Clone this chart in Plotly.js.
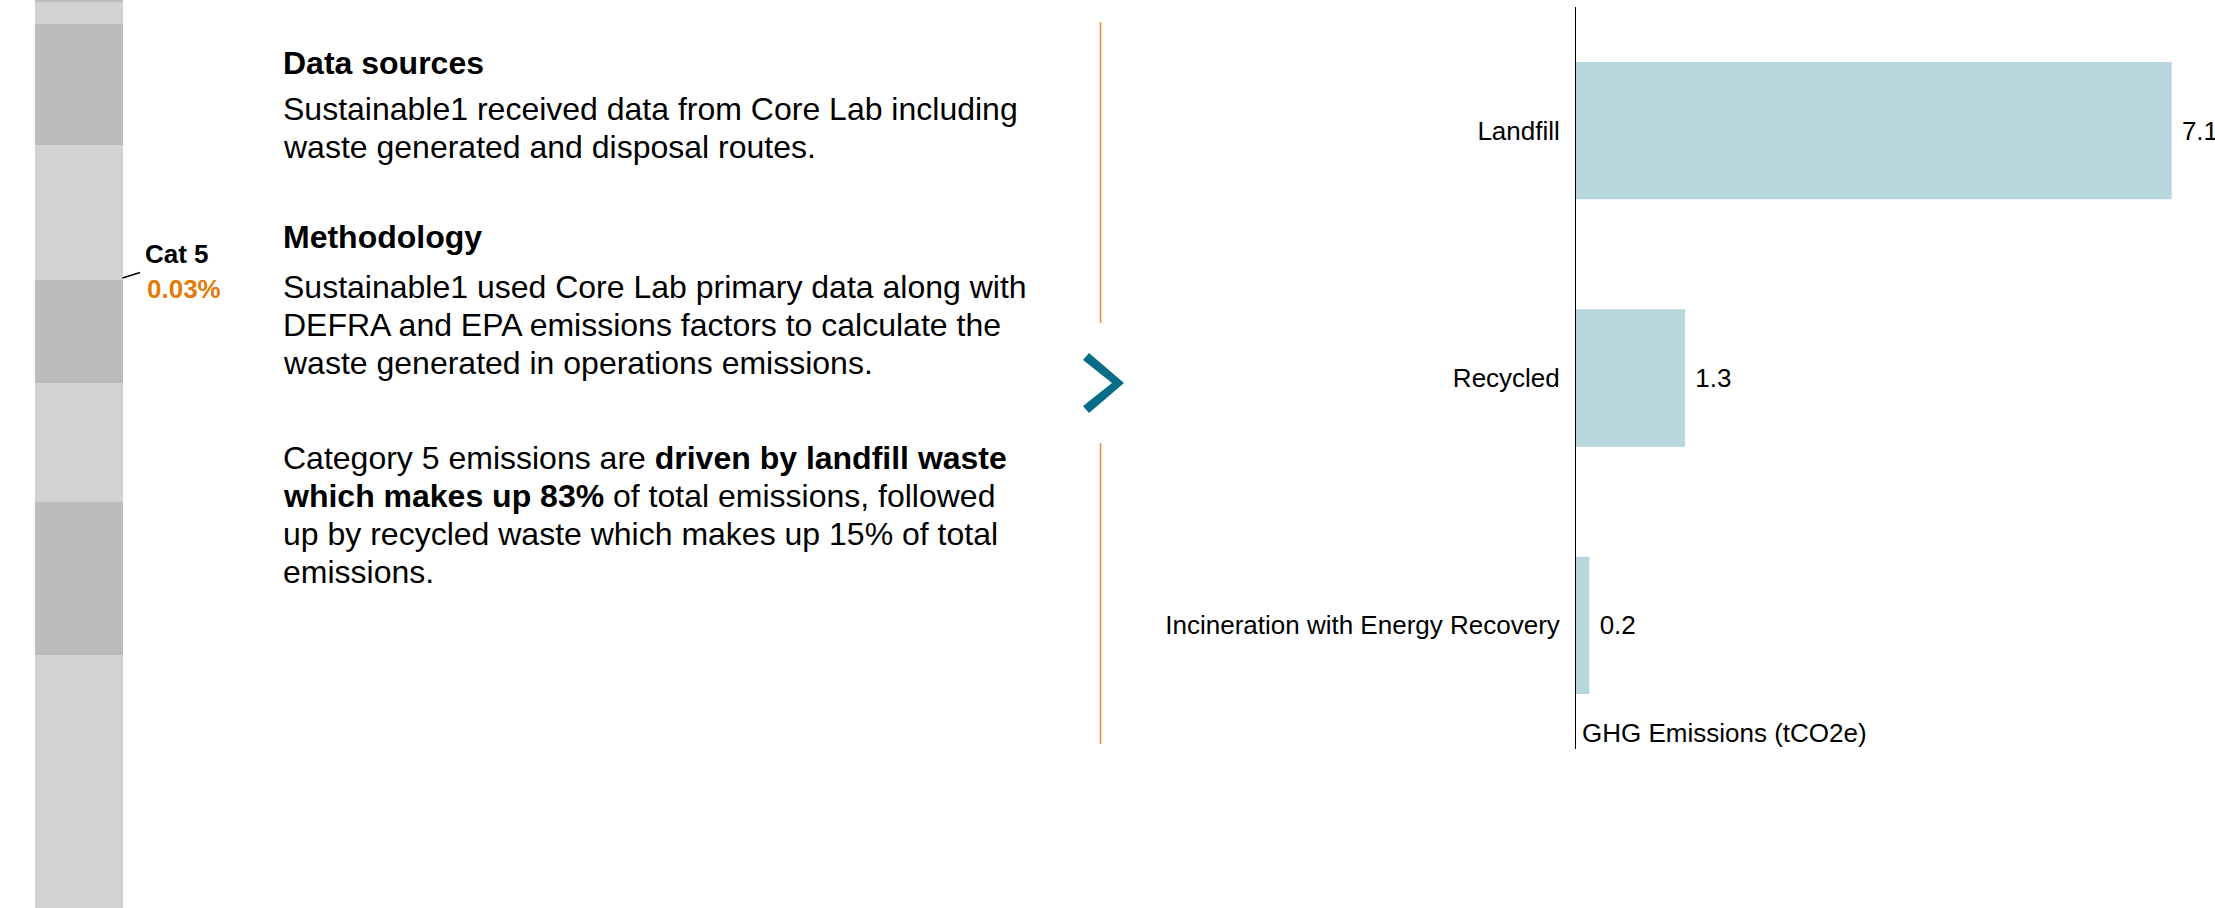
<!DOCTYPE html>
<html>
<head>
<meta charset="utf-8">
<script src="https://cdn.plot.ly/plotly-3.0.1.min.js"></script>
<style>
  html, body { margin: 0; padding: 0; background: #fff; }
  #chart { width: 2215px; height: 908px; }
</style>
</head>
<body>
<div id="chart"></div>
<script>
// bar chart data
const categories = ['Landfill', 'Recycled', 'Incineration with Energy Recovery'];
const emissions = [7.1, 1.3, 0.16];
const axisTitle = 'GHG Emissions (tCO2e)';

// cropped stacked bar on the left (top to bottom)
const segmentValues = [2, 22, 121.5, 134.5, 103, 118.5, 153.5, 300];
const catLabel = 'Cat 5';
const catShare = '0.03%';

// text panel, one entry per line
const textLines = [
    '<b>Data sources</b>',
    'Sustainable1 received data from Core Lab including',
    'waste generated and disposal routes.',
    '<b>Methodology</b>',
    'Sustainable1 used Core Lab primary data along with',
    'DEFRA and EPA emissions factors to calculate the',
    'waste generated in operations emissions.',
    'Category 5 emissions are <b>driven by landfill waste</b>',
    '<b>which makes up 83%</b> of total emissions, followed',
    'up by recycled waste which makes up 15% of total',
    'emissions.'
];
const textLineY = [63, 109, 147, 237, 287, 325, 363, 458, 496, 534, 572];

const W = 2215, H = 908;
const px = x => x / W;
const py = y => 1 - y / H;
const FONT = '"Liberation Sans", Arial, sans-serif';

// stacked bar bases
const bases = [];
let acc = 0;
segmentValues.forEach(v => { bases.push(acc); acc += v; });
const segColors = segmentValues.map((v, i) => i % 2 === 0 ? '#bbbcbe' : '#d1d2d4');

const data = [
    {
        type: 'bar',
        orientation: 'h',
        y: categories,
        x: emissions,
        marker: { color: '#b8d6dd', line: { width: 0 } },
        texttemplate: '\u00a0%{x:.1f}',
        textposition: 'outside',
        textfont: { family: FONT, size: 26, color: '#000' },
        cliponaxis: false,
        hoverinfo: 'skip',
        xaxis: 'x',
        yaxis: 'y'
    },
    {
        type: 'bar',
        x: segmentValues.map(() => 0),
        y: segmentValues,
        base: bases,
        width: 1,
        marker: { color: segColors, line: { width: 0 } },
        hoverinfo: 'skip',
        xaxis: 'x2',
        yaxis: 'y2'
    }
];

const annotations = textLines.map((t, i) => ({
    xref: 'paper', yref: 'paper',
    x: px(281), y: py(textLineY[i]),
    xanchor: 'left', yanchor: 'middle',
    text: t, showarrow: false,
    font: { family: FONT, size: 32, color: '#000' }
}));

annotations.push(
    {
        xref: 'paper', yref: 'paper', x: px(143), y: py(254),
        xanchor: 'left', yanchor: 'middle', showarrow: false,
        text: '<b>' + catLabel + '</b>',
        font: { family: FONT, size: 26, color: '#000' }
    },
    {
        xref: 'paper', yref: 'paper', x: px(145), y: py(289),
        xanchor: 'left', yanchor: 'middle', showarrow: false,
        text: '<b>' + catShare + '</b>',
        font: { family: FONT, size: 26, color: '#e27b07' }
    },
    {
        xref: 'paper', yref: 'paper', x: px(1580), y: py(733),
        xanchor: 'left', yanchor: 'middle', showarrow: false,
        text: axisTitle,
        font: { family: FONT, size: 26, color: '#000' }
    }
);

const chevron = 'M ' + px(1083) + ',' + py(360) + ' L ' + px(1089) + ',' + py(353) +
    ' L ' + px(1124) + ',' + py(383) + ' L ' + px(1089) + ',' + py(413) +
    ' L ' + px(1083) + ',' + py(406) + ' L ' + px(1112) + ',' + py(383) + ' Z';

const shapes = [
    { type: 'line', xref: 'paper', yref: 'paper', x0: px(1100.5), x1: px(1100.5), y0: py(22), y1: py(323),
      line: { color: '#e38b2f', width: 1.5 } },
    { type: 'line', xref: 'paper', yref: 'paper', x0: px(1100.5), x1: px(1100.5), y0: py(443), y1: py(744),
      line: { color: '#e38b2f', width: 1.5 } },
    { type: 'path', xref: 'paper', yref: 'paper', path: chevron,
      fillcolor: '#076c87', line: { width: 0 } },
    { type: 'line', xref: 'paper', yref: 'paper', x0: px(122.5), x1: px(140), y0: py(278), y1: py(272.5),
      line: { color: '#000', width: 1.5 } }
];

const layout = {
    width: W,
    height: H,
    margin: { l: 0, r: 0, t: 0, b: 0 },
    paper_bgcolor: '#fff',
    plot_bgcolor: 'rgba(0,0,0,0)',
    showlegend: false,
    barmode: 'overlay',
    bargap: 0.445,
    font: { family: FONT, color: '#000' },
    xaxis: {
        domain: [px(1576), 1],
        range: [0, 639 / 83.9],
        showgrid: false, zeroline: false, showline: false, showticklabels: false, ticks: '',
        fixedrange: true
    },
    yaxis: {
        domain: [py(749), py(7)],
        type: 'category',
        autorange: 'reversed',
        showline: true, linecolor: '#000', linewidth: 1,
        showgrid: false, zeroline: false, ticks: '',
        ticklabelstandoff: 10,
        tickfont: { family: FONT, size: 26, color: '#000' },
        fixedrange: true
    },
    xaxis2: {
        domain: [px(35), px(123)],
        anchor: 'y2',
        range: [-0.5, 0.5],
        visible: false
    },
    yaxis2: {
        domain: [0, 1],
        anchor: 'x2',
        range: [H, 0],
        visible: false
    },
    annotations: annotations,
    shapes: shapes
};

Plotly.newPlot('chart', data, layout, { staticPlot: true });
</script>
</body>
</html>
